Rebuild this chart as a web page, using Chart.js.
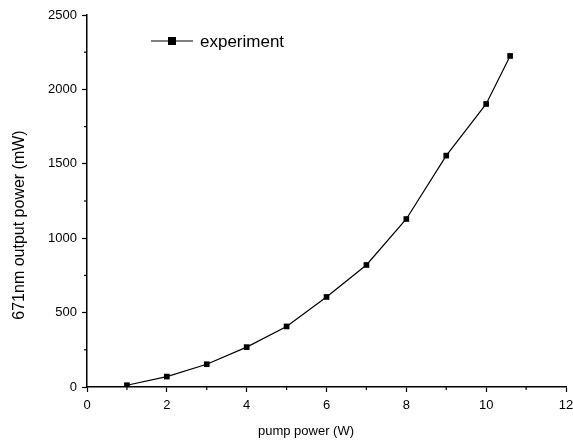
<!DOCTYPE html>
<html>
<head>
<meta charset="utf-8">
<script src="https://cdn.jsdelivr.net/npm/chart.js@4.4.0/dist/chart.umd.min.js"></script>
<style>
  html, body { margin: 0; padding: 0; background: #fff; }
  #wrap { width: 573px; height: 441px; }
</style>
</head>
<body>
<div id="wrap"><canvas id="linechart"></canvas></div>
<script>
// pump power (W) and 671nm output power (mW)
var pumpPower = [1, 2, 3, 4, 5, 6, 7, 8, 9, 10, 10.6];
var outputPower = [12, 70, 153, 268, 407, 605, 820, 1129, 1555, 1902, 2225];
var seriesName = "experiment";
var xTitle = "pump power (W)";
var yTitle = "671nm output power (mW)";

var font = "Liberation Sans, Arial, sans-serif";

// minor ticks, axis titles and the in-plot legend
var extras = {
    id: 'extras',
    afterDraw: function(chart){
        var ctx = chart.ctx;
        var xs = chart.scales.x, ys = chart.scales.y;
        var a = chart.chartArea;
        ctx.save();
        ctx.strokeStyle = '#000';
        ctx.lineWidth = 1.2;
        for (var v = 1; v < 12; v += 2) {
            var px = xs.getPixelForValue(v);
            ctx.beginPath(); ctx.moveTo(px, a.bottom); ctx.lineTo(px, a.bottom + 3); ctx.stroke();
        }
        for (var w = 250; w < 2500; w += 500) {
            var py = ys.getPixelForValue(w);
            ctx.beginPath(); ctx.moveTo(a.left, py); ctx.lineTo(a.left - 3, py); ctx.stroke();
        }
        ctx.fillStyle = '#000';
        ctx.textAlign = 'center';
        ctx.textBaseline = 'middle';
        ctx.font = '13px ' + font;
        ctx.fillText(xTitle, 306, 431);
        ctx.save();
        ctx.translate(20, 225);
        ctx.rotate(-Math.PI / 2);
        ctx.font = '16px ' + font;
        ctx.fillText(yTitle, 0, 0);
        ctx.restore();
        // legend
        ctx.lineWidth = 1;
        ctx.beginPath(); ctx.moveTo(151, 41); ctx.lineTo(193, 41); ctx.stroke();
        ctx.fillRect(168, 37, 8, 8);
        ctx.font = '17px ' + font;
        ctx.textAlign = 'left';
        ctx.fillText(seriesName, 200, 42);
        ctx.restore();
    }
};

new Chart(document.getElementById('linechart'), {
    type: 'line',
    data: {
        datasets: [
            {
                label: seriesName,
                data: pumpPower.map(function(p, i){ return {x: p, y: outputPower[i]}; }),
                borderColor: '#000',
                borderWidth: 1.2,
                backgroundColor: '#000',
                pointStyle: 'rect',
                pointRadius: 4,
                pointBorderWidth: 0,
                tension: 0
            }
        ]
    },
    options: {
        responsive: true,
        maintainAspectRatio: false,
        animation: false,
        layout: { padding: { top: 15, right: 0, left: 0, bottom: 0 } },
        plugins: {
            legend: { display: false },
            tooltip: { enabled: false }
        },
        scales: {
            x: {
                type: 'linear',
                min: 0, max: 12,
                ticks: { stepSize: 2, color: '#000', padding: 6, font: { family: font, size: 13 },
                    callback: function(v){ return String(v); } },
                grid: { drawOnChartArea: false, tickLength: 5, tickColor: '#000', tickWidth: 1.2 },
                border: { color: '#000', width: 1.5 },
                afterFit: function(s){ s.height = 54; s.paddingRight = 7; }
            },
            y: {
                min: 0, max: 2500,
                ticks: { stepSize: 500, color: '#000', padding: 5, font: { family: font, size: 13 },
                    callback: function(v){ return String(v); } },
                grid: { drawOnChartArea: false, tickLength: 5, tickColor: '#000', tickWidth: 1.2 },
                border: { color: '#000', width: 1.5 },
                afterFit: function(s){ s.width = 87; }
            }
        }
    },
    plugins: [extras]
});
</script>
</body>
</html>
